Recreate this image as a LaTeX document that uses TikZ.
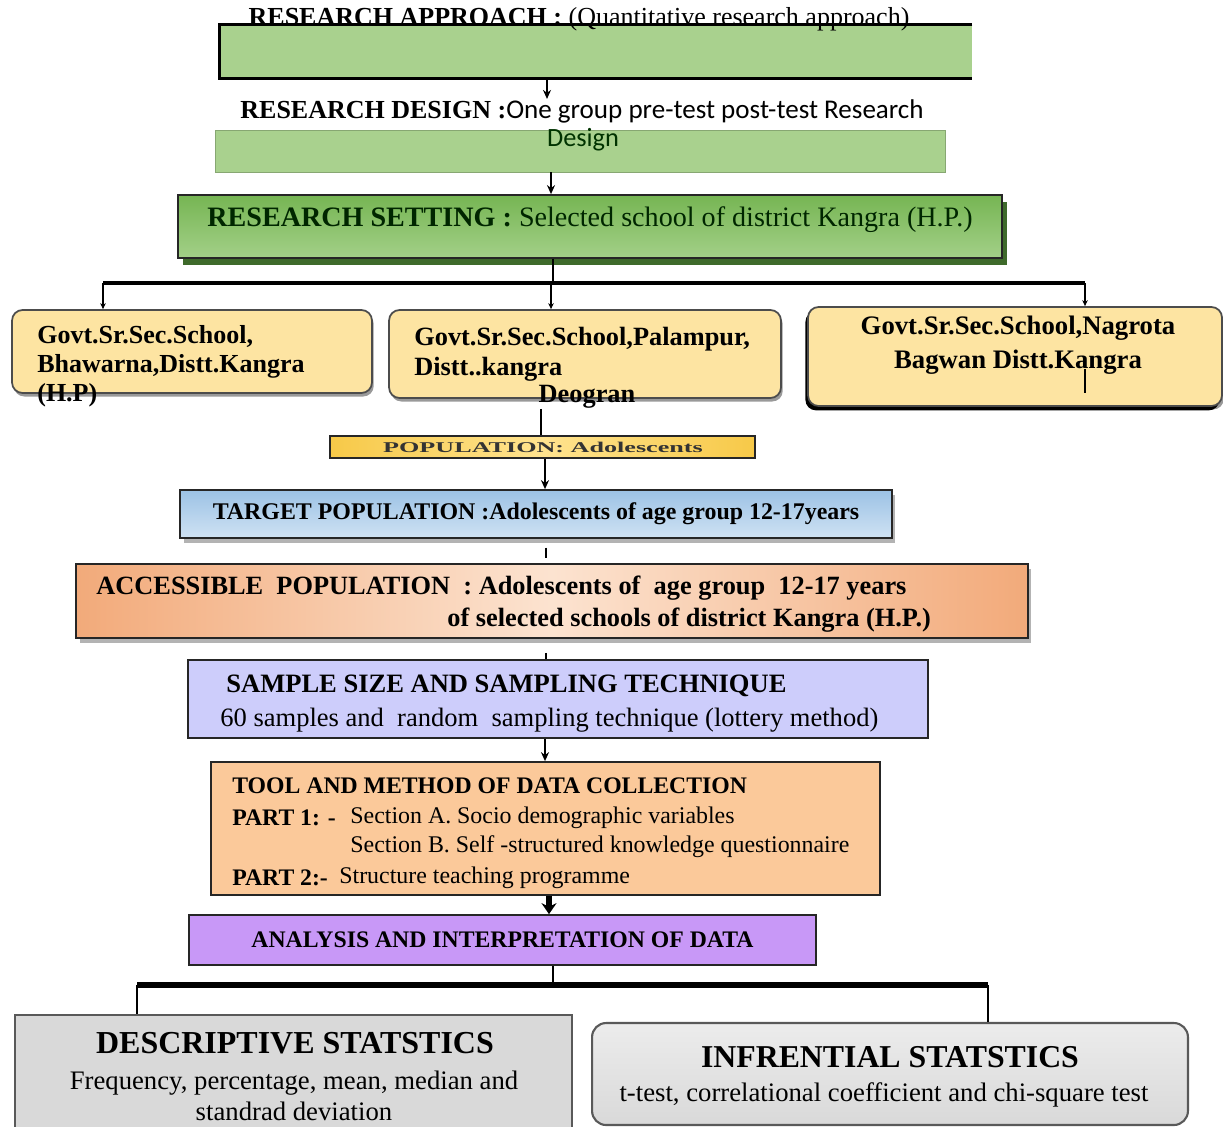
\documentclass[tikz,border=0pt]{standalone}
\usepackage{fontspec}
\setmainfont{Liberation Serif}
\newfontfamily\calib{Carlito}
\usetikzlibrary{arrows.meta, shadows}
\definecolor{apgreen}{HTML}{A9D18E}
\definecolor{setgreenA}{HTML}{76B553}
\definecolor{setgreenB}{HTML}{A3D088}
\definecolor{setshadow}{HTML}{3E6A2B}
\definecolor{schoolyel}{HTML}{FDE4A2}
\definecolor{popyelA}{HTML}{F7C948}
\definecolor{popyelB}{HTML}{FFE38F}
\definecolor{tgtblueA}{HTML}{9CC2E5}
\definecolor{tgtblueB}{HTML}{CFE2F3}
\definecolor{accorA}{HTML}{F2AA7A}
\definecolor{accorB}{HTML}{FCE3D0}
\definecolor{smplav}{HTML}{CDCDFB}
\definecolor{toolor}{HTML}{FBC99A}
\definecolor{anapurp}{HTML}{C898F7}
\definecolor{statgrey}{HTML}{D9D9D9}
\newcommand{\fsz}[1]{\fontsize{#1}{#1}\selectfont}

\begin{document}
\begin{tikzpicture}[x=0.02cm, y=-0.02cm,
  box/.style={draw=black!85, line width=1pt, inner sep=0pt},
  school/.style={box, rounded corners=6pt, fill=schoolyel, draw=black!70,
                 drop shadow={shadow xshift=1pt, shadow yshift=-2pt, opacity=0.8}},
  grey/.style={box, fill=statgrey, draw=black!65, line width=1.2pt},
  txt/.style={inner sep=0pt, align=left},
  ar/.style={-{Stealth[length=1.8mm, width=1.6mm]}, line width=1.3pt},
  tar/.style={-{Stealth[length=1.2mm, width=1.1mm]}, line width=0.6pt},
  ln/.style={line width=0.8pt},
  bar/.style={line width=2.4pt}]
\useasboundingbox (0,0) rectangle (1223,1126);

% research approach
\node[minimum width=15.04cm, minimum height=1.06cm, fill=apgreen, inner sep=0pt] (appr) at (596,51.5) {};
\draw[line width=1.7pt] (appr.north east) -- (appr.north west) -- (appr.south west) -- (appr.south east);
\node[txt, font=\fsz{14.8}] (apprtxt) at (579,19) {\textbf{RESEARCH APPROACH :} (Quantitative research approach)};

% research design
\node[minimum width=14.6cm, minimum height=0.84cm, fill=apgreen, draw=apgreen!80!black, line width=0.4pt] (dsg) at (580,151) {};
\node[txt, font=\fsz{14.8}] (dsgtxt) at (582,111) {\textbf{RESEARCH DESIGN :}{\calib\fsz{15.4}One group pre-test post-test Research}};
\node[txt, font=\calib\fsz{15}, text=black!80!green] (dsgtxt2) at (583,140) {Design};
\draw[ar] (appr.south -| 547,0) -- (dsgtxt.north -| 547,0);

% research setting
\node[box, minimum width=16.48cm, minimum height=1.26cm, top color=setgreenA, bottom color=setgreenB,
      drop shadow={shadow xshift=3pt, shadow yshift=-4pt, fill=setshadow, opacity=1}] (set) at (590,226.5) {};
\node[txt, font=\fsz{16}, text=black!85!green] (settxt) at (590,220) {\textbf{RESEARCH SETTING :} Selected school of district Kangra (H.P.)};
\draw[ar] (dsg.south -| 551,0) -- (set.north -| 551,0);

% branches to schools
\coordinate (bl) at (103,283);
\coordinate (br) at (1085,283);
\draw[ln] (set.south -| 553,0) -- (553,283);
\draw[bar] (bl) -- (br);
\node[school, minimum width=7.2cm, minimum height=1.66cm] (s1) at (192,351.5) {};
\node[school, minimum width=7.84cm, minimum height=1.76cm] (s2) at (585,354) {};
\node[school, minimum width=8.28cm, minimum height=1.98cm,
      drop shadow={shadow xshift=-1.5pt, shadow yshift=-2.5pt, fill=black, opacity=1}] (s3) at (1015,356.5) {};
\foreach \s/\x in {s1/103, s2/551, s3/1085}
  \draw[tar] (\x,283) -- (\s.north -| \x,0);
\node[txt, font=\bfseries\fsz{14.8}, anchor=north west] (s1txt) at (37,325)
  {Govt.Sr.Sec.School,\\[1.8pt]Bhawarna,Distt.Kangra\\[1.8pt](H.P)};
\node[txt, font=\bfseries\fsz{15}, anchor=north west] (s2txt) at (414,327)
  {Govt.Sr.Sec.School,Palampur,\\[1.8pt]Distt..kangra};
\node[txt, font=\bfseries\fsz{15}] (s2dg) at (587,397) {Deogran};
\node[txt, font=\bfseries\fsz{15.2}, align=center] (s3txt) at (1018,345)
  {Govt.Sr.Sec.School,Nagrota\\[4pt]Bagwan Distt.Kangra};
\draw[line width=1.5pt] (s3.south -| 1085,0) ++(0,-38) -- ++(0,24);

% population
\node[box, minimum width=8.5cm, minimum height=0.44cm, left color=popyelA, right color=popyelA,
      middle color=popyelB, line width=0.8pt] (pop) at (542.5,447) {};
\node[txt, font=\bfseries\fsz{8.5}, text=black!80] (poptxt) at (543,447) {\scalebox{1.75}[1]{POPULATION: Adolescents}};
\draw[ln] (s2dg.south -| 541,0) -- (pop.north -| 541,0);

% target population
\node[box, minimum width=14.24cm, minimum height=0.96cm, top color=tgtblueA, bottom color=tgtblueB,
      drop shadow={shadow xshift=2pt, shadow yshift=-3pt, opacity=0.6}, font=\bfseries\fsz{13.6}] (tgt) at (536,514)
  {TARGET POPULATION :Adolescents of age group 12-17years};
\draw[ar] (pop.south -| 545,0) -- (tgt.north -| 545,0);

% accessible population
\node[box, minimum width=19.04cm, minimum height=1.48cm, left color=accorA, right color=accorA, middle color=accorB,
      drop shadow={shadow xshift=2pt, shadow yshift=-3pt, opacity=0.6}] (acc) at (552,601) {};
\node[txt, font=\bfseries\fsz{15}, anchor=west] (acctxt1) at (96,588)
  {ACCESSIBLE\ \ POPULATION\ \ : Adolescents of\ \ age group\ \ 12-17 years};
\node[txt, font=\bfseries\fsz{15}, anchor=west] (acctxt2) at (447,620)
  {of selected schools of district Kangra (H.P.)};
\draw[line width=1.5pt, shorten <=5pt, shorten >=3pt] (tgt.south -| 546,0) -- (acc.north -| 546,0);

% sample size
\node[box, minimum width=14.8cm, minimum height=1.56cm, fill=smplav] (smp) at (558,699) {};
\node[txt, font=\bfseries\fsz{15.1}, anchor=west] (smptxt1) at (226,686) {SAMPLE SIZE AND SAMPLING TECHNIQUE};
\node[txt, font=\fsz{15.1}, anchor=west] (smptxt2) at (220,720) {60 samples and\ \ random\ \ sampling technique (lottery method)};
\draw[line width=1.5pt, shorten <=8pt] (acc.south -| 546,0) -- (smp.north -| 546,0);

% tool and method
\node[box, minimum width=13.38cm, minimum height=2.66cm, fill=toolor] (tool) at (545.5,828.5) {};
\node[txt, font=\bfseries\fsz{13.5}, anchor=west] (tooltxt) at (232,786) {TOOL AND METHOD OF DATA COLLECTION};
\node[txt, font=\bfseries\fsz{13.5}, anchor=west] (p1) at (232,818) {PART 1: -};
\node[txt, font=\fsz{13.6}, anchor=west] (p1a) at (350,818) {Section A. Socio demographic variables};
\node[txt, font=\fsz{13.6}, anchor=west] (p1b) at (350,847) {Section B. Self -structured knowledge questionnaire};
\node[txt, font=\bfseries\fsz{13.5}, anchor=west] (p2) at (232,878) {PART 2:-};
\node[txt, font=\fsz{13.6}, anchor=west] (p2a) at (339,878) {Structure teaching programme};
\draw[ar] (smp.south -| 545,0) -- (tool.north -| 545,0);

% analysis
\node[box, minimum width=12.54cm, minimum height=1.0cm, fill=anapurp, font=\bfseries\fsz{13.5}] (ana) at (502.5,940)
  {ANALYSIS AND INTERPRETATION OF DATA};
\draw[-{Stealth[length=2.2mm, width=3mm]}, line width=3pt] (tool.south -| 549,0) -- (ana.north -| 549,0);

% statistics
\coordinate (sl) at (137,985);
\coordinate (sr) at (988,985);
\draw[ln] (ana.south -| 553,0) -- (553,983);
\draw[line width=3.2pt] (sl) -- (sr);
\node[grey, minimum width=11.14cm, minimum height=2.5cm] (dsc) at (293.5,1077.5) {};
\node[grey, rounded corners=8pt, minimum width=11.92cm, minimum height=2.04cm,
      top color=statgrey!50, bottom color=statgrey] (inf) at (890,1074) {};
\draw[ln] (sl) -- (dsc.north -| sl);
\draw[ln] (sr) -- (inf.north -| sr);
\node[txt, font=\bfseries\fsz{18.2}] (dsctxt) at (295,1043) {DESCRIPTIVE STATSTICS};
\node[txt, font=\fsz{15.2}, align=center, anchor=north] (dscbody) at (294,1071)
  {Frequency, percentage, mean, median and\\[2.4pt]standrad deviation};
\node[txt, font=\bfseries\fsz{18.1}] (inftxt) at (890,1057) {INFRENTIAL STATSTICS};
\node[txt, font=\fsz{15.2}] (infbody) at (884,1095) {t-test, correlational coefficient and chi-square test};
\end{tikzpicture}
\end{document}
